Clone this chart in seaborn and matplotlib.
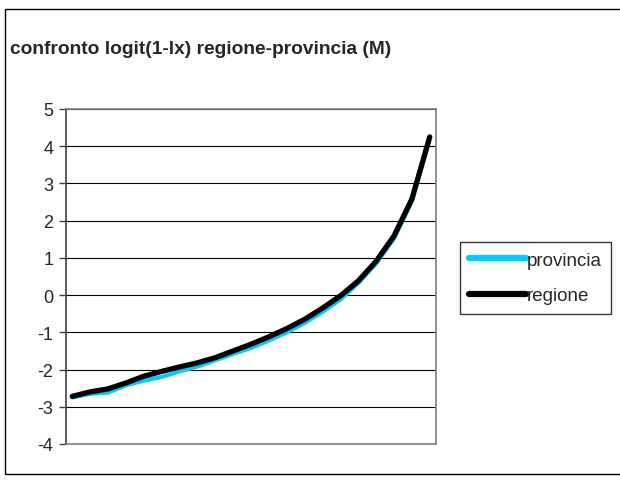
import numpy as np
import pandas as pd
import matplotlib
matplotlib.use("Agg")
import matplotlib.pyplot as plt
import seaborn as sns
from matplotlib.patches import Rectangle

# age classes (points along the curve)
classi = list(range(21))
provincia = [-2.75, -2.65, -2.62, -2.42, -2.30, -2.20, -2.05, -1.92, -1.75, -1.58, -1.42,
             -1.22, -1.00, -0.75, -0.45, -0.12, 0.32, 0.85, 1.52, 2.52, 4.20]
regione = [-2.72, -2.60, -2.52, -2.36, -2.18, -2.05, -1.93, -1.82, -1.68, -1.50, -1.32,
           -1.12, -0.90, -0.65, -0.35, -0.02, 0.38, 0.91, 1.59, 2.58, 4.25]

df = pd.DataFrame({"classe": classi * 2,
                   "valore": provincia + regione,
                   "serie": ["provincia"] * len(classi) + ["regione"] * len(classi)})

sns.set_style("white")
plt.rcParams['font.family'] = ['Liberation Sans', 'DejaVu Sans']
plt.rcParams['axes.unicode_minus'] = False

fig = plt.figure(figsize=(6.2, 4.81), dpi=100)
fig.patches.append(Rectangle((5 / 620, 6 / 481), 1.2, 465 / 481, transform=fig.transFigure,
                             fill=False, edgecolor="black", linewidth=1))
ax = fig.add_axes([66 / 620, 36 / 481, 370 / 620, 335 / 481])

sns.lineplot(data=df, x="classe", y="valore", hue="serie",
             palette={"provincia": "#00CCFF", "regione": "black"},
             ax=ax, legend=False)
ax.lines[0].set_linewidth(3.0)
ax.lines[1].set_linewidth(3.8)

ax.set_xlim(-0.35, 20.35)
ax.set_ylim(-4, 5)
ax.set_yticks(range(-4, 6))
ax.set_xticks([])
ax.set_xlabel("")
ax.set_ylabel("")
ax.yaxis.grid(True, color="black", linewidth=0.8)
ax.set_axisbelow(True)
ax.tick_params(axis="y", left=True, length=5, width=1, color="#404040", labelsize=13, pad=4)
for s in ["top", "right", "bottom"]:
    ax.spines[s].set_color("#808080")
    ax.spines[s].set_linewidth(1.2)
ax.spines["left"].set_color("#404040")
ax.spines["left"].set_linewidth(1.2)

fig.text(10 / 620, 1 - 50 / 481, "confronto logit(1-lx) regione-provincia (M)",
         fontsize=13.8, fontweight="bold", va="center", ha="left")

leg = fig.legend(handles=[plt.Line2D([], [], color="#00CCFF", lw=4.5),
                          plt.Line2D([], [], color="black", lw=4.5)],
                 labels=["provincia", "regione"],
                 loc="center left", bbox_to_anchor=(460 / 620, 1 - 279 / 481),
                 fontsize=13.5, frameon=True, fancybox=False, handlelength=3.0,
                 handletextpad=0.05, borderpad=0.5, labelspacing=1.0, borderaxespad=0)
leg.get_frame().set_edgecolor("black")
leg.get_frame().set_linewidth(1)

fig.savefig("out.png", dpi=100)
